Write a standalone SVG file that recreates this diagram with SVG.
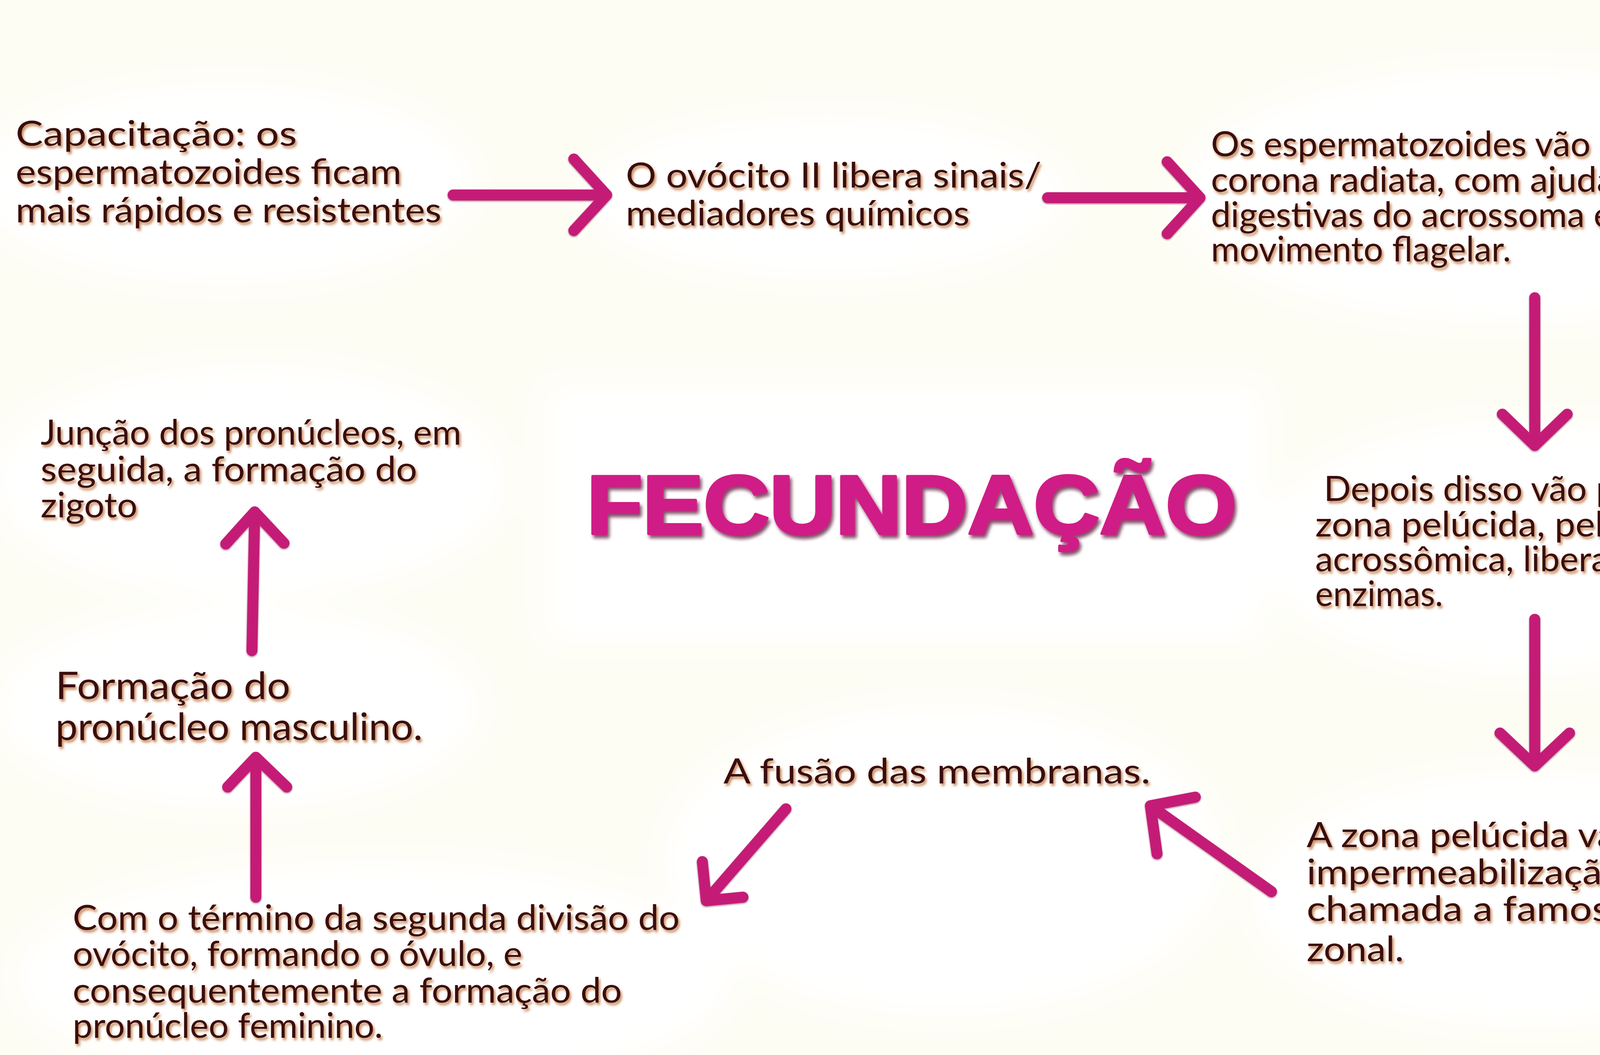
<svg xmlns="http://www.w3.org/2000/svg" width="4800" height="2700" viewBox="0 0 4800 2700">
<style>
.t{font-family:Lato,"Noto Sans","DejaVu Sans",sans-serif;font-size:90px;font-weight:normal;fill:#3a0b0d;filter:url(#tsh)}
.t2{font-size:96px}
.title{font-family:"Liberation Sans",Arial,sans-serif;font-weight:bold;font-size:214px;fill:#d01f86;stroke:#d01f86;stroke-width:7;stroke-linejoin:round;filter:url(#titsh)}
.arr{fill:none;stroke:#c41a76;stroke-width:28;stroke-linecap:round;stroke-linejoin:round;filter:url(#ash)}
.blob{fill:#ffffff}
</style>
<defs>
<filter id="tsh" x="-5%" y="-30%" width="110%" height="160%">
<feDropShadow dx="4" dy="6" stdDeviation="3" flood-color="#c07a48" flood-opacity="0.9"/>
</filter>
<filter id="titsh" x="-5%" y="-20%" width="110%" height="140%">
<feDropShadow dx="5" dy="8" stdDeviation="4" flood-color="#5a1530" flood-opacity="0.75"/>
</filter>
<filter id="ash" x="-20%" y="-20%" width="140%" height="140%">
<feDropShadow dx="0" dy="2" stdDeviation="2" flood-color="#6a0a3a" flood-opacity="0.6"/>
</filter>
<filter id="soft" x="-20%" y="-20%" width="140%" height="140%">
<feGaussianBlur stdDeviation="40"/>
</filter>
</defs>
<rect x="0" y="0" width="4800" height="2700" fill="#fefdf4"/>
<g id="background" filter="url(#soft)">
<ellipse class="blob" cx="580" cy="470" rx="640" ry="260"/>
<ellipse class="blob" cx="2120" cy="505" rx="620" ry="210"/>
<ellipse class="blob" cx="3880" cy="500" rx="860" ry="330"/>
<ellipse class="blob" cx="3920" cy="1400" rx="700" ry="330"/>
<ellipse class="blob" cx="3920" cy="2300" rx="720" ry="330"/>
<ellipse class="blob" cx="2420" cy="2200" rx="720" ry="400"/>
<ellipse class="blob" cx="960" cy="2500" rx="920" ry="300"/>
<ellipse class="blob" cx="610" cy="1810" rx="620" ry="260"/>
<ellipse class="blob" cx="640" cy="1230" rx="660" ry="300"/>
<rect class="blob" x="1390" y="985" width="1850" height="660"/>
</g>
<g id="connectors">
<path class="arr" d="M1160 499 L1553 499 M1469 407 L1553 499 L1469 590"/>
<path class="arr" d="M2682 506 L3072 506 M2988 414 L3072 506 L2988 598"/>
<path class="arr" d="M3929 762 L3929 1140 M3846 1060 L3929 1140 L4012 1060"/>
<path class="arr" d="M3929 1585 L3929 1960 M3840 1876 L3929 1960 L4018 1876"/>
<path class="arr" d="M3255 2282 L2945 2062 M2962 2185 L2945 2062 L3060 2040"/>
<path class="arr" d="M2012 2070 L1808 2305 M1798 2205 L1808 2305 L1902 2296"/>
<path class="arr" d="M655 2296 L655 1938 M583 2014 L655 1938 L734 2014"/>
<path class="arr" d="M645 1665 L652 1310 M578 1392 L652 1310 L727 1390"/>
</g>
<g id="node-capacitacao">
<text class="t" x="40" y="373" textLength="720" lengthAdjust="spacingAndGlyphs">Capacitação: os</text>
<text class="t" x="40" y="471" textLength="988" lengthAdjust="spacingAndGlyphs">espermatozoides ficam</text>
<text class="t" x="40" y="569" textLength="1090" lengthAdjust="spacingAndGlyphs">mais rápidos e resistentes</text>
</g>
<g id="node-ovocito">
<text class="t" x="1602" y="480" textLength="1064" lengthAdjust="spacingAndGlyphs">O ovócito II libera sinais/</text>
<text class="t" x="1602" y="577" textLength="880" lengthAdjust="spacingAndGlyphs">mediadores químicos</text>
</g>
<g id="node-corona">
<text class="t" x="3100" y="400" textLength="1308" lengthAdjust="spacingAndGlyphs">Os espermatozoides vão cruzar a</text>
<text class="t" x="3100" y="491" textLength="1544" lengthAdjust="spacingAndGlyphs">corona radiata, com ajuda das enzimas</text>
<text class="t" x="3100" y="581" textLength="1152" lengthAdjust="spacingAndGlyphs">digestivas do acrossoma e do</text>
<text class="t" x="3100" y="669" textLength="768" lengthAdjust="spacingAndGlyphs">movimento flagelar.</text>
</g>
<g id="node-zona-pelucida">
<text class="t" x="3389" y="1282" textLength="1018" lengthAdjust="spacingAndGlyphs">Depois disso vão passar a</text>
<text class="t" x="3367" y="1373" textLength="1086" lengthAdjust="spacingAndGlyphs">zona pelúcida, pela reação</text>
<text class="t" x="3367" y="1462" textLength="1110" lengthAdjust="spacingAndGlyphs">acrossômica, liberando mais</text>
<text class="t" x="3367" y="1551" textLength="327" lengthAdjust="spacingAndGlyphs">enzimas.</text>
</g>
<g id="node-reacao-zonal">
<text class="t" x="3345" y="2168" textLength="1092" lengthAdjust="spacingAndGlyphs">A zona pelúcida vai sofrer</text>
<text class="t" x="3345" y="2263" textLength="835" lengthAdjust="spacingAndGlyphs">impermeabilização,</text>
<text class="t" x="3345" y="2357" textLength="1149" lengthAdjust="spacingAndGlyphs">chamada a famosa reação</text>
<text class="t" x="3345" y="2460" textLength="249" lengthAdjust="spacingAndGlyphs">zonal.</text>
</g>
<g id="node-fusao">
<text class="t" x="1852" y="2005" textLength="1093" lengthAdjust="spacingAndGlyphs">A fusão das membranas.</text>
</g>
<g id="node-pronucleo-feminino">
<text class="t" x="186" y="2380" textLength="1554" lengthAdjust="spacingAndGlyphs">Com o término da segunda divisão do</text>
<text class="t" x="186" y="2472" textLength="1151" lengthAdjust="spacingAndGlyphs">ovócito, formando o óvulo, e</text>
<text class="t" x="186" y="2566" textLength="1406" lengthAdjust="spacingAndGlyphs">consequentemente a formação do</text>
<text class="t" x="186" y="2656" textLength="794" lengthAdjust="spacingAndGlyphs">pronúcleo feminino.</text>
</g>
<g id="node-pronucleo-masculino">
<text class="t t2" x="142" y="1789" textLength="601" lengthAdjust="spacingAndGlyphs">Formação do</text>
<text class="t t2" x="142" y="1894" textLength="940" lengthAdjust="spacingAndGlyphs">pronúcleo masculino.</text>
</g>
<g id="node-zigoto">
<text class="t" x="104" y="1138" textLength="1077" lengthAdjust="spacingAndGlyphs">Junção dos pronúcleos, em</text>
<text class="t" x="104" y="1232" textLength="964" lengthAdjust="spacingAndGlyphs">seguida, a formação do</text>
<text class="t" x="104" y="1324" textLength="248" lengthAdjust="spacingAndGlyphs">zigoto</text>
</g>
<g id="node-title">
<text class="title" x="1502" y="1366" textLength="1664" lengthAdjust="spacingAndGlyphs">FECUNDAÇÃO</text>
</g>
</svg>
